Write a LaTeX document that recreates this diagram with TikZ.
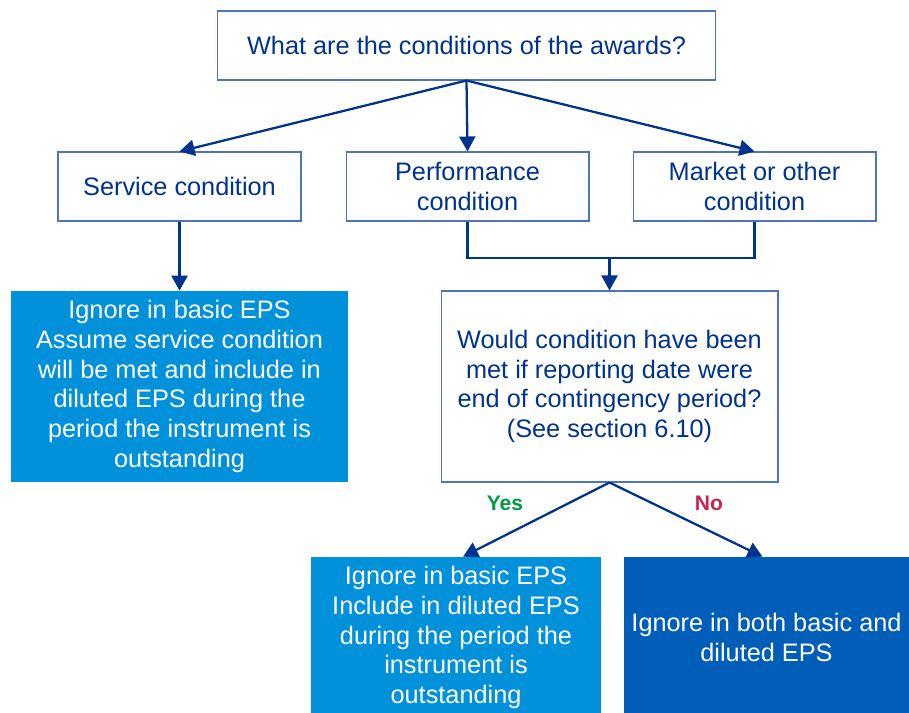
\documentclass[tikz,border=0pt]{standalone}
\usepackage{fontspec}
\setmainfont{Liberation Sans}
\usetikzlibrary{arrows.meta}
\definecolor{navy}{HTML}{00338D}
\definecolor{boxline}{HTML}{4F74BA}
\definecolor{midblue}{HTML}{0091DA}
\definecolor{deepblue}{HTML}{005EB8}
\definecolor{yesgreen}{HTML}{009A44}
\definecolor{nored}{HTML}{C6254B}

\begin{document}
\begin{tikzpicture}[x=0.02cm, y=-0.02cm,
        every node/.style={font=\fontsize{14.4}{17}\selectfont, align=center, inner sep=0pt},
        qbox/.style={draw=boxline, line width=0.6pt, fill=white, text=navy},
        fillbox/.style={fill=#1, text=white},
        link/.style={navy, line width=1.3pt},
        arr/.style={link, -{Triangle[length=0.3cm, width=0.32cm]}},
        answer/.style={font=\fontsize{12}{14}\selectfont\bfseries}]
        \useasboundingbox (0,0) rectangle (909,713);
        % Pergunta inicial
        \node[qbox, minimum width=9.98cm, minimum height=1.38cm] (awards) at (466.5,45.5) {What are the conditions of the awards?};
        % Tipos de condição
        \node[qbox, minimum width=4.86cm, minimum height=1.38cm] (service) at (179.5,186.5) {Service condition};
        \node[qbox, minimum width=4.86cm, minimum height=1.38cm] (perf) at (467.5,186.5) {Performance\\condition};
        \node[qbox, minimum width=4.86cm, minimum height=1.38cm] (market) at (754.5,186.5) {Market or other\\condition};
        % Resultado da condição de serviço
        \node[fillbox=midblue, minimum width=6.74cm, minimum height=3.82cm] (serviceres) at (179.5,386.5)
            {Ignore in basic EPS\\Assume service condition\\will be met and include in\\diluted EPS during the\\period the instrument is\\outstanding};
        % Teste de contingência
        \node[qbox, minimum width=6.74cm, minimum height=3.82cm] (test) at (609.5,386.5)
            {Would condition have been\\met if reporting date were\\end of contingency period?\\(See section 6.10)};
        % Resultados sim / não
        \node[fillbox=midblue, minimum width=5.8cm, minimum height=3.22cm] (yesres) at (456,637.5)
            {Ignore in basic EPS\\Include in diluted EPS\\during the period the\\instrument is\\outstanding};
        \node[fillbox=deepblue, minimum width=5.7cm, minimum height=3.22cm] (nores) at (766.5,637.5)
            {Ignore in both basic and\\diluted EPS};
        % Setas do topo
        \draw[arr] (awards.south) -- (service.north);
        \draw[arr] (awards.south) -- (perf.north);
        \draw[arr] (awards.south) -- (market.north);
        \draw[arr] (service.south) -- (serviceres.north);
        % Junção das duas condições
        \coordinate (join) at (609.5,258);
        \draw[link] (perf.south) |- (join) -| (market.south);
        \draw[arr] (join) -- (test.north);
        % Sim / Não
        \draw[arr] (test.south) -- ([xshift=0.14cm]yesres.north);
        \draw[arr] (test.south) -- ([xshift=-0.08cm]nores.north);
        \node[answer, text=yesgreen] (yes) at (505,503) {Yes};
        \node[answer, text=nored] (no) at (709,503) {No};
\end{tikzpicture}
\end{document}
